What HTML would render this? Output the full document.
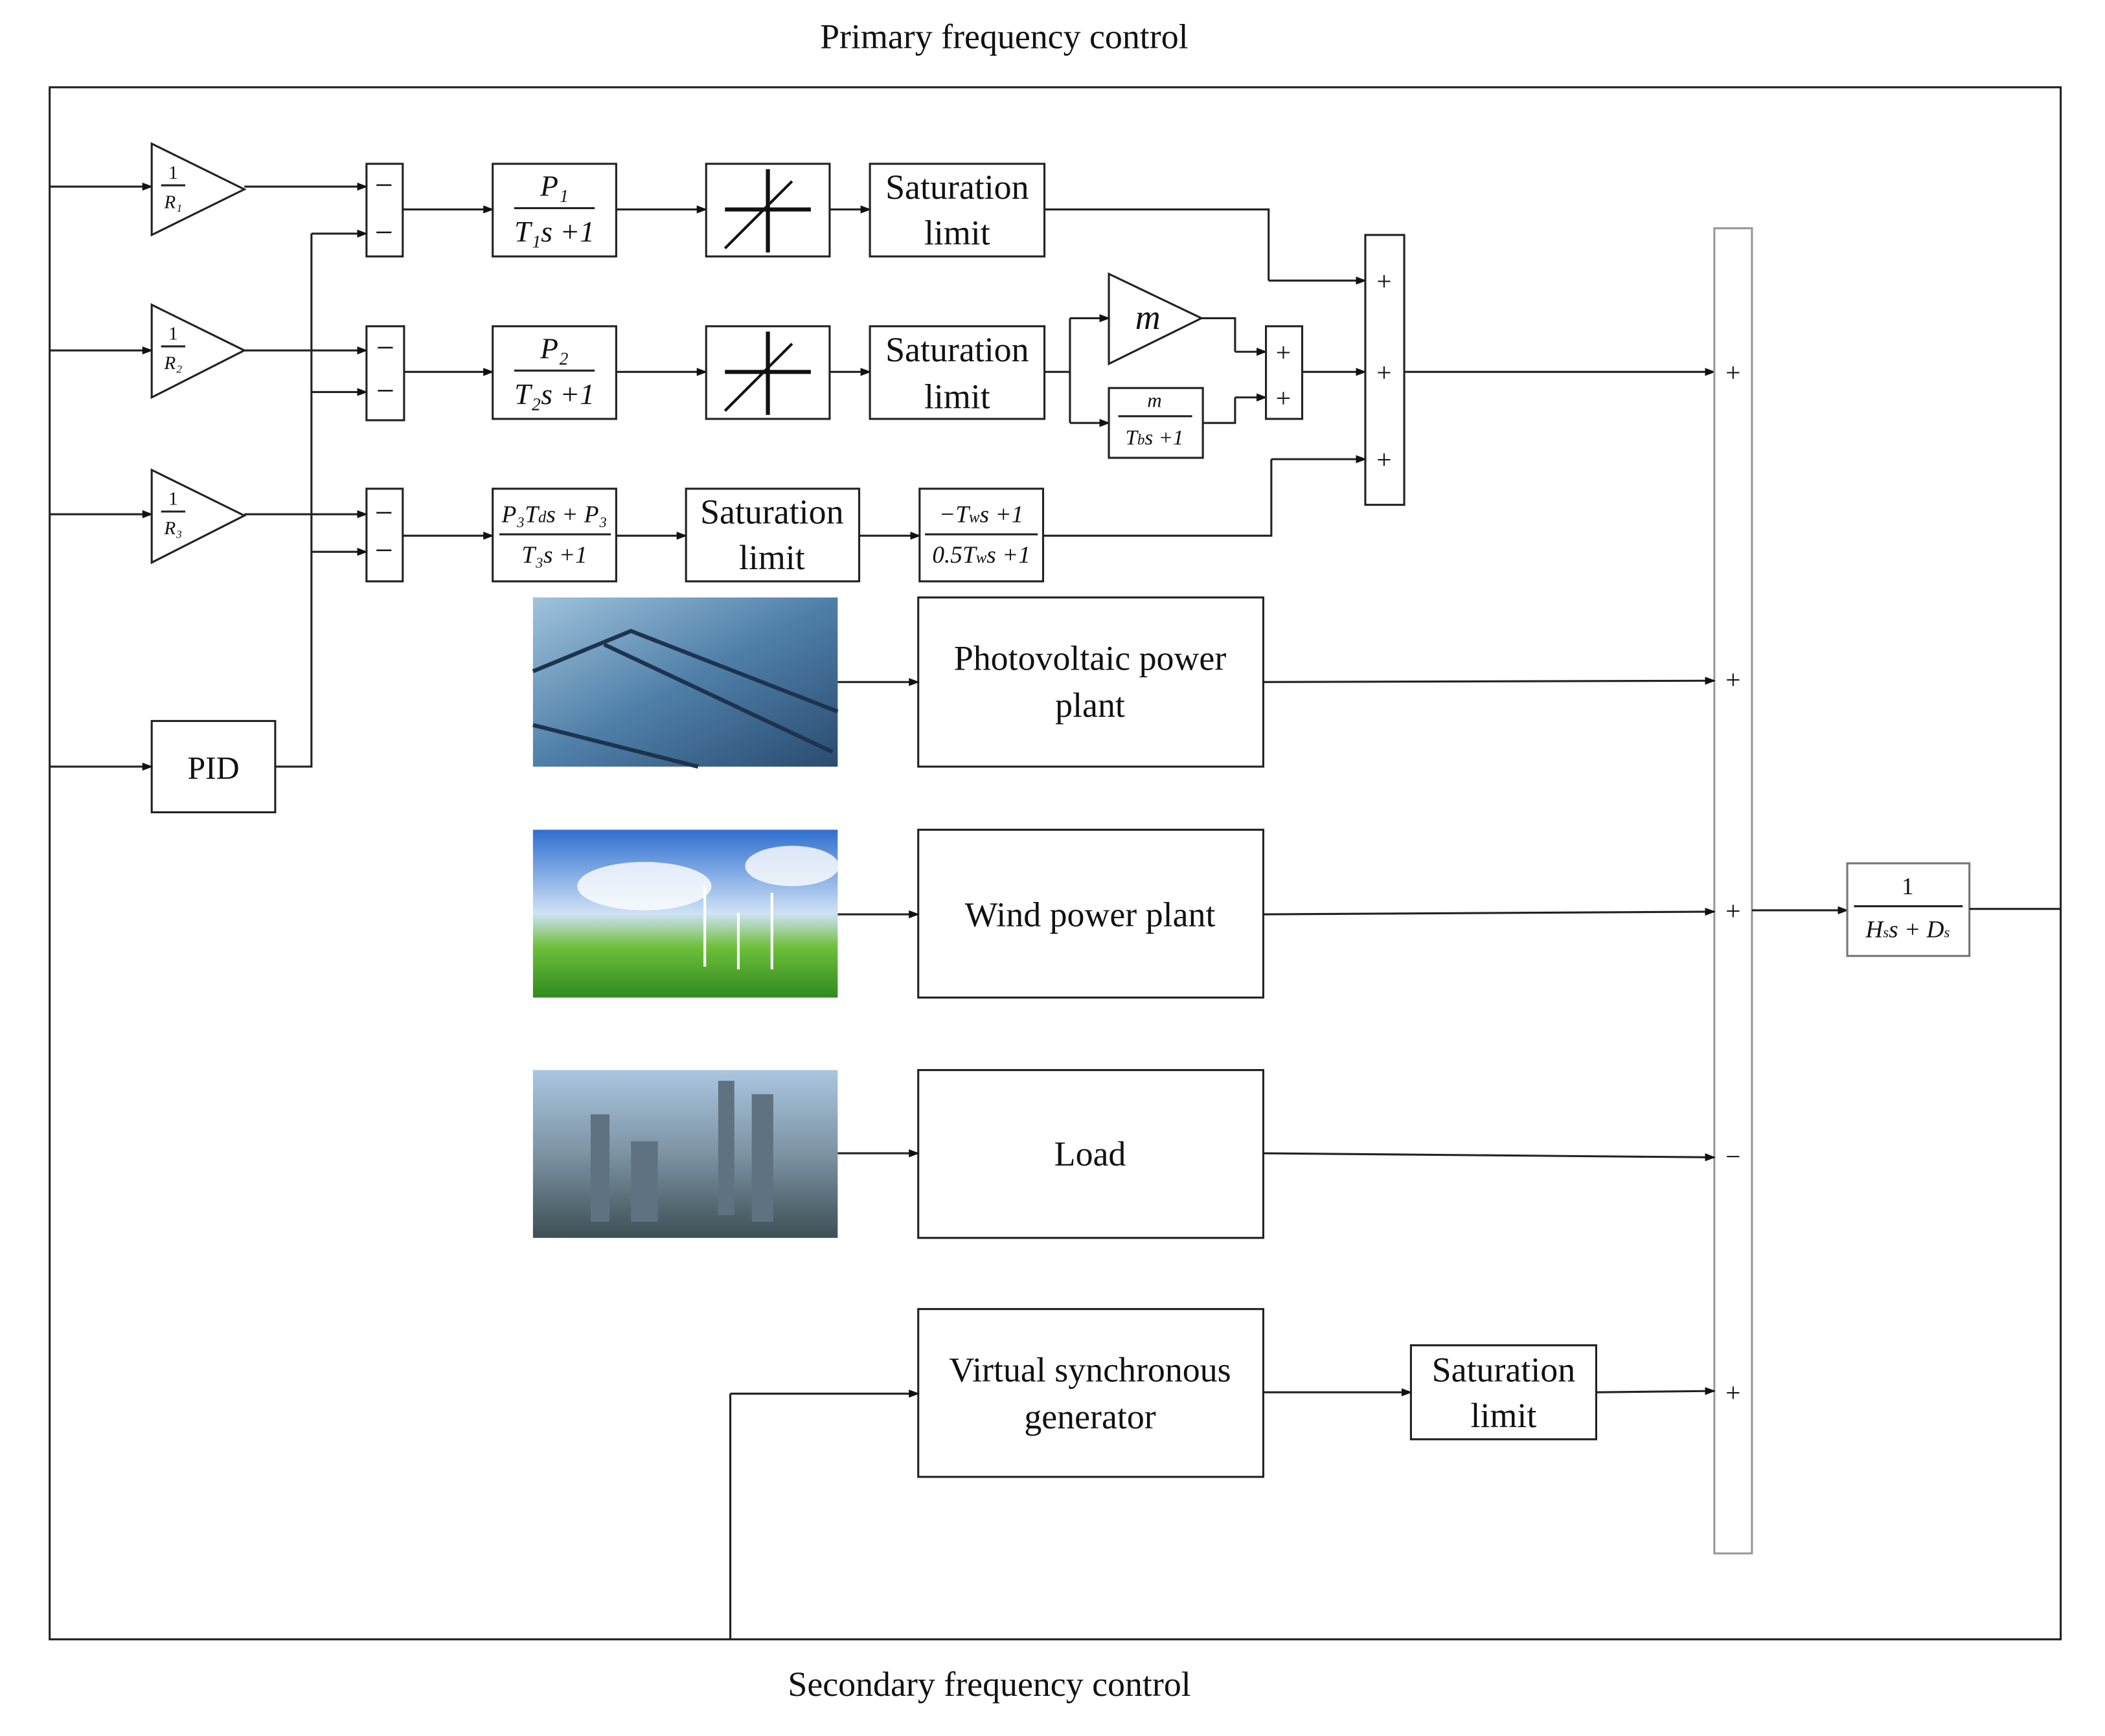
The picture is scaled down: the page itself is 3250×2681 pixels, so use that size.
<!DOCTYPE html>
<html><head><meta charset="utf-8"><style>
html,body{margin:0;padding:0;background:#fff}
svg{display:block}
text{font-family:"Liberation Serif",serif;fill:#111}
.it{font-style:italic}
</style></head><body>
<svg width="3250" height="2681" viewBox="0 0 1568 1293" preserveAspectRatio="none" xmlns="http://www.w3.org/2000/svg">
<defs>
<marker id="a" markerWidth="8" markerHeight="8" refX="7" refY="4" orient="auto" markerUnits="userSpaceOnUse"><path d="M0,1 L8,4 L0,7 z" fill="#111"/></marker>
<linearGradient id="pv" x1="0" y1="0" x2="1" y2="1"><stop offset="0" stop-color="#9fc3dc"/><stop offset="0.5" stop-color="#4f7fa8"/><stop offset="1" stop-color="#2a4c70"/></linearGradient>
<linearGradient id="wd" x1="0" y1="0" x2="0" y2="1"><stop offset="0" stop-color="#2f6fd0"/><stop offset="0.5" stop-color="#cfe2f5"/><stop offset="0.7" stop-color="#6fbf3a"/><stop offset="1" stop-color="#2f8a20"/></linearGradient>
<linearGradient id="ct" x1="0" y1="0" x2="0" y2="1"><stop offset="0" stop-color="#a9c6e0"/><stop offset="0.5" stop-color="#7d93a3"/><stop offset="1" stop-color="#3d4f55"/></linearGradient>
</defs>
<g stroke="#222" stroke-width="1.5" fill="none">
<rect x="37" y="65" width="1498" height="1156"/>
<line x1="37" y1="139" x2="113" y2="139" marker-end="url(#a)"/>
<line x1="37" y1="261" x2="113" y2="261" marker-end="url(#a)"/>
<line x1="37" y1="383" x2="113" y2="383" marker-end="url(#a)"/>
<path d="M113,107 L182,141 L113,175 Z"/>
<path d="M113,227 L182,261 L113,296 Z"/>
<path d="M113,350 L182,384 L113,419 Z"/>
<line x1="182" y1="139" x2="273" y2="139" marker-end="url(#a)"/>
<line x1="182" y1="261" x2="273" y2="261" marker-end="url(#a)"/>
<line x1="182" y1="383" x2="273" y2="383" marker-end="url(#a)"/>
<rect x="113" y="537" width="92" height="68"/>
<line x1="37" y1="571" x2="113" y2="571" marker-end="url(#a)"/>
<path d="M205,571 L232,571 L232,174"/>
<line x1="232" y1="174" x2="273" y2="174" marker-end="url(#a)"/>
<line x1="232" y1="292" x2="273" y2="292" marker-end="url(#a)"/>
<line x1="232" y1="411" x2="273" y2="411" marker-end="url(#a)"/>
<rect x="273" y="122" width="27" height="69"/>
<rect x="273" y="243" width="28" height="70"/>
<rect x="273" y="364" width="27" height="69"/>
<line x1="300" y1="156" x2="367" y2="156" marker-end="url(#a)"/>
<line x1="301" y1="277" x2="367" y2="277" marker-end="url(#a)"/>
<line x1="300" y1="399" x2="367" y2="399" marker-end="url(#a)"/>
<rect x="367" y="122" width="92" height="69"/>
<rect x="367" y="243" width="92" height="69"/>
<rect x="367" y="364" width="92" height="69"/>
<line x1="459" y1="156" x2="526" y2="156" marker-end="url(#a)"/>
<line x1="459" y1="277" x2="526" y2="277" marker-end="url(#a)"/>
<line x1="459" y1="399" x2="511" y2="399" marker-end="url(#a)"/>
<rect x="526" y="122" width="92" height="69"/>
<rect x="526" y="243" width="92" height="69"/>
<line x1="618" y1="156" x2="648" y2="156" marker-end="url(#a)"/>
<line x1="618" y1="277" x2="648" y2="277" marker-end="url(#a)"/>
<rect x="648" y="122" width="130" height="69"/>
<rect x="648" y="243" width="130" height="69"/>
<rect x="511" y="364" width="129" height="69"/>
<line x1="640" y1="399" x2="685" y2="399" marker-end="url(#a)"/>
<rect x="685" y="364" width="92" height="69"/>
<path d="M778,156 L945,156 L945,209"/>
<line x1="945" y1="209" x2="1017" y2="209" marker-end="url(#a)"/>
<path d="M778,277 L797,277 L797,237"/>
<line x1="797" y1="237" x2="826" y2="237" marker-end="url(#a)"/>
<path d="M797,277 L797,315"/>
<line x1="797" y1="315" x2="826" y2="315" marker-end="url(#a)"/>
<path d="M826,204 L895,237 L826,271 Z"/>
<rect x="826" y="289" width="70" height="52"/>
<path d="M895,237 L920,237 L920,262"/>
<line x1="920" y1="262" x2="943" y2="262" marker-end="url(#a)"/>
<path d="M896,315 L920,315 L920,296"/>
<line x1="920" y1="296" x2="943" y2="296" marker-end="url(#a)"/>
<rect x="943" y="243" width="27" height="69"/>
<line x1="970" y1="277" x2="1017" y2="277" marker-end="url(#a)"/>
<path d="M777,399 L947,399 L947,342"/>
<line x1="947" y1="342" x2="1017" y2="342" marker-end="url(#a)"/>
<rect x="1017" y="175" width="29" height="201"/>
<line x1="1046" y1="277" x2="1277" y2="277" marker-end="url(#a)"/>
<rect x="1277" y="170" width="28" height="987" stroke="#999"/>
<rect x="684" y="445" width="257" height="126"/>
<rect x="684" y="618" width="257" height="125"/>
<rect x="684" y="797" width="257" height="125"/>
<rect x="684" y="975" width="257" height="125"/>
<line x1="624" y1="508" x2="684" y2="508" marker-end="url(#a)"/>
<line x1="624" y1="681" x2="684" y2="681" marker-end="url(#a)"/>
<line x1="624" y1="859" x2="684" y2="859" marker-end="url(#a)"/>
<line x1="941" y1="508" x2="1277" y2="507" marker-end="url(#a)"/>
<line x1="941" y1="681" x2="1277" y2="679" marker-end="url(#a)"/>
<line x1="941" y1="859" x2="1277" y2="862" marker-end="url(#a)"/>
<line x1="941" y1="1037" x2="1051" y2="1037" marker-end="url(#a)"/>
<rect x="1051" y="1002" width="138" height="70"/>
<line x1="1189" y1="1037" x2="1277" y2="1036" marker-end="url(#a)"/>
<path d="M544,1221 L544,1038"/>
<line x1="544" y1="1038" x2="684" y2="1038" marker-end="url(#a)"/>
<line x1="1305" y1="678" x2="1376" y2="678" marker-end="url(#a)"/>
<rect x="1376" y="643" width="91" height="69" stroke="#777"/>
<line x1="1467" y1="677" x2="1535" y2="677"/>
<line x1="383" y1="155" x2="443" y2="155"/>
<line x1="383" y1="276" x2="443" y2="276"/>
<line x1="372" y1="398" x2="455" y2="398"/>
<line x1="689" y1="398" x2="773" y2="398"/>
<line x1="833" y1="310" x2="888" y2="310"/>
<line x1="1381" y1="675" x2="1462" y2="675"/>
<line x1="120" y1="138" x2="138" y2="138"/>
<line x1="120" y1="258" x2="138" y2="258"/>
<line x1="120" y1="381" x2="138" y2="381"/>
</g>
<g stroke="#111" stroke-width="3">
<line x1="572" y1="126" x2="572" y2="188"/><line x1="540" y1="156" x2="604" y2="156"/><line x1="540" y1="185" x2="590" y2="135" stroke-width="2"/>
<line x1="572" y1="247" x2="572" y2="309"/><line x1="540" y1="277" x2="604" y2="277"/><line x1="540" y1="306" x2="590" y2="256" stroke-width="2"/>
</g>
<rect x="397" y="445" width="227" height="126" fill="url(#pv)"/>
<g stroke="#1d3350" stroke-width="3" fill="none"><path d="M397,500 L470,470 L624,530"/><path d="M450,480 L620,560"/><path d="M397,540 L520,571"/></g>
<rect x="397" y="618" width="227" height="125" fill="url(#wd)"/>
<ellipse cx="480" cy="660" rx="50" ry="18" fill="#fff" opacity="0.8"/><ellipse cx="590" cy="645" rx="35" ry="15" fill="#fff" opacity="0.8"/>
<g stroke="#fff" stroke-width="2"><line x1="525" y1="660" x2="525" y2="720"/><line x1="575" y1="665" x2="575" y2="722"/><line x1="550" y1="680" x2="550" y2="722"/></g>
<rect x="397" y="797" width="227" height="125" fill="url(#ct)"/>
<g fill="#5e7282"><rect x="440" y="830" width="14" height="80"/><rect x="535" y="805" width="12" height="100"/><rect x="560" y="815" width="16" height="95"/><rect x="470" y="850" width="20" height="60"/></g>
<text x="748" y="36" font-size="26" text-anchor="middle">Primary frequency control</text>
<text x="737" y="1263" font-size="26" text-anchor="middle">Secondary frequency control</text>
<g font-size="14" text-anchor="middle"><text x="129" y="133">1</text><text x="129" y="253">1</text><text x="129" y="376">1</text></g>
<g font-size="14" class="it" text-anchor="middle"><text x="129" y="155" class="it">R₁</text><text x="129" y="275" class="it">R₂</text><text x="129" y="398" class="it">R₃</text></g>
<g font-size="24" text-anchor="middle"><text x="286" y="146">−</text><text x="286" y="181">−</text><text x="287" y="267">−</text><text x="287" y="299">−</text><text x="286" y="390">−</text><text x="286" y="418">−</text></g>
<text x="159" y="580" font-size="24" text-anchor="middle">PID</text>
<g font-size="22" text-anchor="middle" class="it">
<text x="413" y="146">P₁</text><text x="413" y="180">T₁s +1</text>
<text x="413" y="267">P₂</text><text x="413" y="301">T₂s +1</text>
<text x="413" y="389" font-size="18">P₃T<tspan font-size="12">d</tspan>s + P₃</text><text x="413" y="419" font-size="18">T₃s +1</text>
<text x="731" y="389" font-size="18">−T<tspan font-size="12">w</tspan>s +1</text><text x="731" y="419" font-size="18">0.5T<tspan font-size="12">w</tspan>s +1</text>
<text x="855" y="245" font-size="26">m</text>
<text x="860" y="303" font-size="15">m</text><text x="860" y="331" font-size="16">T<tspan font-size="11">b</tspan>s +1</text>
<text x="1421" y="666" font-size="18" font-style="normal">1</text><text x="1421" y="698" font-size="18">H<tspan font-size="11">s</tspan>s + D<tspan font-size="11">s</tspan></text>
</g>
<g font-size="26" text-anchor="middle">
<text x="713" y="148">Saturation</text><text x="713" y="182">limit</text>
<text x="713" y="269">Saturation</text><text x="713" y="304">limit</text>
<text x="575" y="390">Saturation</text><text x="575" y="424">limit</text>
<text x="812" y="499">Photovoltaic power</text><text x="812" y="534">plant</text>
<text x="812" y="690">Wind power plant</text>
<text x="812" y="868">Load</text>
<text x="812" y="1029">Virtual synchronous</text><text x="812" y="1064">generator</text>
<text x="1120" y="1029">Saturation</text><text x="1120" y="1063">limit</text>
</g>
<g font-size="20" text-anchor="middle">
<text x="956" y="269">+</text><text x="956" y="303">+</text>
<text x="1031" y="216">+</text><text x="1031" y="284">+</text><text x="1031" y="349">+</text>
<text x="1291" y="284">+</text><text x="1291" y="513">+</text><text x="1291" y="685">+</text><text x="1291" y="868">−</text><text x="1291" y="1044">+</text>
</g>
</svg>
</body></html>
